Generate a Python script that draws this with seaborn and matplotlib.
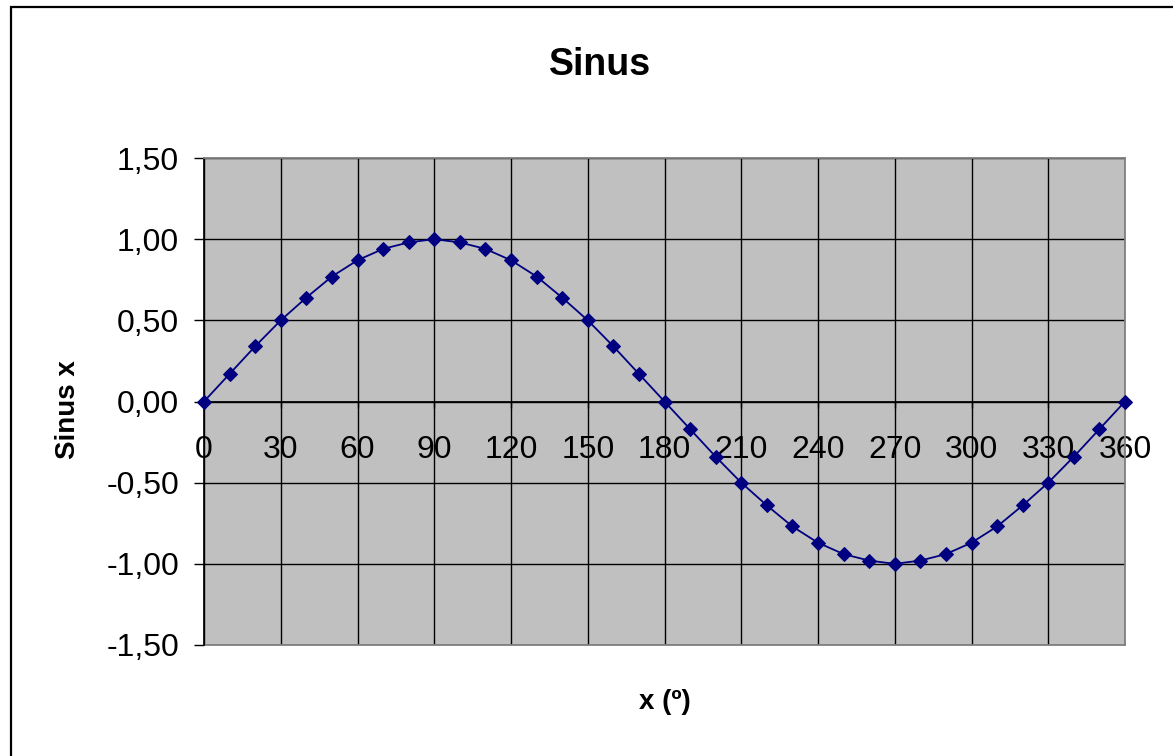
import matplotlib
matplotlib.use("Agg")
import matplotlib.pyplot as plt
from matplotlib.patches import Rectangle
from matplotlib.ticker import FuncFormatter
import seaborn as sns

# angle (degrees) and sine values
angles = [0, 10, 20, 30, 40, 50, 60, 70, 80, 90, 100, 110, 120, 130, 140, 150,
          160, 170, 180, 190, 200, 210, 220, 230, 240, 250, 260, 270, 280, 290,
          300, 310, 320, 330, 340, 350, 360]
sinus = [0.00, 0.17, 0.34, 0.50, 0.64, 0.77, 0.87, 0.94, 0.98, 1.00, 0.98, 0.94,
         0.87, 0.77, 0.64, 0.50, 0.34, 0.17, 0.00, -0.17, -0.34, -0.50, -0.64,
         -0.77, -0.87, -0.94, -0.98, -1.00, -0.98, -0.94, -0.87, -0.77, -0.64,
         -0.50, -0.34, -0.17, 0.00]
x_ticks = list(range(0, 361, 30))
y_ticks = [-1.5, -1.0, -0.5, 0.0, 0.5, 1.0, 1.5]

sns.set_theme(style="white")
plt.rcParams["font.family"] = ["Liberation Sans", "DejaVu Sans"]
plt.rcParams["text.color"] = "black"
plt.rcParams["xtick.color"] = "black"
plt.rcParams["ytick.color"] = "black"
plt.rcParams["xtick.labelcolor"] = "black"
plt.rcParams["ytick.labelcolor"] = "black"

W, H = 1173, 756
fig = plt.figure(figsize=(W / 100, H / 100), dpi=100)
ax = fig.add_axes([204 / W, 1 - 645 / H, (1125 - 204) / W, (645 - 158) / H])
ax.set_facecolor("#C0C0C0")

navy = "#000080"
sns.lineplot(x=angles, y=sinus, ax=ax, color=navy, linewidth=1.3,
             marker="D", markersize=7, markeredgecolor=navy, clip_on=False,
             zorder=5)

ax.set_xlim(0, 360)
ax.set_ylim(-1.5, 1.5)
ax.set_xticks(x_ticks)
ax.set_yticks(y_ticks)
ax.yaxis.set_major_formatter(FuncFormatter(lambda v, p: f"{v:.2f}".replace(".", ",")))
ax.grid(True, color="black", linewidth=1.0)
ax.set_axisbelow(True)

# Excel style: category axis crosses at zero
ax.spines["bottom"].set_position(("data", 0))
ax.spines["bottom"].set_color("black")
ax.spines["left"].set_color("black")
for s in ["top", "right"]:
    ax.spines[s].set_color("#808080")
    ax.spines[s].set_linewidth(1.3)
ax.axhline(-1.5, color="#808080", linewidth=1.3, clip_on=False)

ax.tick_params(axis="x", direction="out", length=4, width=1,
               pad=20, labelsize=23)
ax.tick_params(axis="y", direction="out", length=7, width=1,
               pad=11, labelsize=23)
ax.tick_params(left=True, bottom=True)
ax.set_xlabel("")
ax.set_ylabel("")

fig.text(600 / W, 1 - 65 / H, "Sinus", ha="center", va="center",
         fontsize=27, fontweight="bold")
fig.text(665 / W, 1 - 702 / H, "x (º)", ha="center", va="center",
         fontsize=20, fontweight="bold")
fig.text(68 / W, 1 - 410 / H, "Sinus x", ha="center", va="center",
         rotation=90, fontsize=20, fontweight="bold")

# chart frame
fig.patches.append(Rectangle((10.5 / W, -0.1), 1.2, 1.1 - 7.5 / H,
                             transform=fig.transFigure, fill=False,
                             edgecolor="black", linewidth=1.6))

fig.savefig("out.png", dpi=100)
